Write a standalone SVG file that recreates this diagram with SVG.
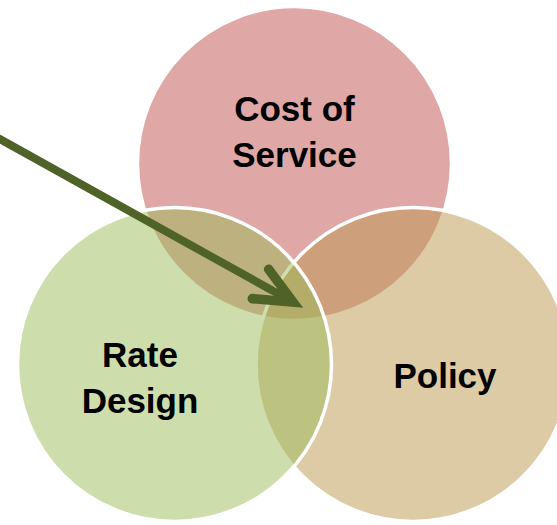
<svg xmlns="http://www.w3.org/2000/svg" width="557" height="525" viewBox="0 0 557 525">
  <defs>
    <style>
      .c { fill-opacity: 0.5; stroke: #FFFFFF; stroke-width: 3.5; }
      .t { font-family: "Liberation Sans", Arial, sans-serif; font-weight: bold; font-size: 35px; fill: #000000; text-anchor: middle; }
      .conn { stroke: #4F6228; stroke-width: 8; fill: none; }
    </style>
    <marker id="arrow" markerUnits="userSpaceOnUse" orient="auto" refX="0" refY="0" markerWidth="60" markerHeight="60" viewBox="-40 -20 50 40" overflow="visible">
      <path d="M-31,-14 L0,0 L-31,14" fill="none" stroke="#4F6228" stroke-width="8" stroke-linecap="round" stroke-linejoin="miter" stroke-miterlimit="10"/>
    </marker>
  </defs>
  <g id="node-cost-of-service">
    <circle class="c" cx="294.5" cy="163.5" r="157" fill="#C0504D"/>
    <text class="t" x="294.5" y="121">Cost of</text>
    <text class="t" x="294.5" y="167">Service</text>
  </g>
  <g id="node-policy">
    <circle class="c" cx="413" cy="364.5" r="157" fill="#BB974D"/>
    <text class="t" x="445" y="388">Policy</text>
  </g>
  <g id="node-rate-design">
    <circle class="c" cx="174.5" cy="364.5" r="157" fill="#9BBB59"/>
    <text class="t" x="140" y="367">Rate</text>
    <text class="t" x="140" y="413">Design</text>
  </g>
  <g id="connectors">
    <path class="conn" d="M-2,138 L293,302" marker-end="url(#arrow)"/>
  </g>
</svg>
